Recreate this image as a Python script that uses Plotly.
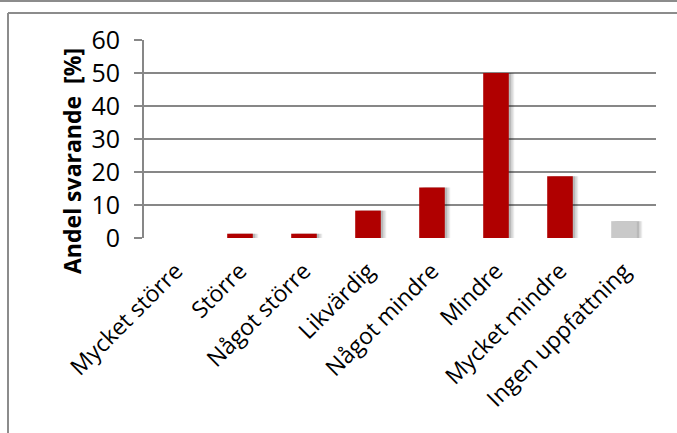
import plotly.graph_objects as go

categories = ["Mycket större", "Större", "Något större", "Likvärdig",
              "Något mindre", "Mindre", "Mycket mindre", "Ingen uppfattning"]
values = [0.0, 1.3, 1.3, 8.3, 15.3, 50.0, 18.7, 5.1]
bar_colors = ["#B00000"] * 7 + ["#C9C9C9"]
y_ticks = [0, 10, 20, 30, 40, 50, 60]
y_title = "Andel svarande\u00a0 [%]"

W, H = 677, 433
L, R, T, B = 144, 21, 40, 195
pw, ph = W - L - R, H - T - B

def px(x):
    return (x - L) / pw

def py(y):
    return (H - B - y) / ph

fig = go.Figure()

# soft shadows
for off, alpha in [(0.085, 0.08), (0.06, 0.10), (0.035, 0.12)]:
    fig.add_trace(go.Bar(
        x=categories, y=values, width=0.4, offset=-0.2 + off,
        marker=dict(color=f"rgba(0,0,0,{alpha})", line=dict(width=0)),
        hoverinfo="skip", showlegend=False,
    ))

fig.add_trace(go.Bar(
    x=categories, y=values, width=0.4, offset=-0.2,
    marker=dict(color=bar_colors, line=dict(width=0)),
    showlegend=False,
))

font_family = "Open Sans, Noto Sans, sans-serif"

fig.update_layout(
    width=W, height=H,
    margin=dict(l=L, r=R, t=T, b=B, pad=0),
    paper_bgcolor="white", plot_bgcolor="white",
    barmode="overlay",
    font=dict(family=font_family, size=24, color="black"),
    xaxis=dict(
        type="category", tickangle=-45, showgrid=False, zeroline=False,
        showline=False, ticks="", ticklabelstandoff=14,
        tickfont=dict(size=23, family=font_family),
        range=[-0.5, 7.5], fixedrange=True,
    ),
    yaxis=dict(
        range=[0, 60], tickvals=y_ticks, ticktext=[str(v) for v in y_ticks],
        showgrid=True, gridcolor="#878787", gridwidth=2,
        zeroline=False, showline=True, linecolor="#878787", linewidth=2,
        ticks="outside", ticklen=8, tickcolor="#878787", tickwidth=2,
        ticklabelstandoff=9,
        tickfont=dict(size=25, family=font_family),
        fixedrange=True,
    ),
    annotations=[
        dict(text="<b>" + y_title + "</b>", xref="paper", yref="paper",
             x=px(72), y=py(161), xanchor="center", yanchor="middle",
             textangle=-90, showarrow=False,
             font=dict(size=23, family=font_family, color="black")),
    ],
    shapes=[
        dict(type="line", xref="paper", yref="paper",
             x0=px(0), x1=px(W), y0=py(1), y1=py(1),
             line=dict(color="#8C8C8C", width=2)),
        dict(type="line", xref="paper", yref="paper",
             x0=px(8), x1=px(W), y0=py(13), y1=py(13),
             line=dict(color="#8C8C8C", width=2)),
        dict(type="line", xref="paper", yref="paper",
             x0=px(8), x1=px(8), y0=py(13), y1=py(H),
             line=dict(color="#8C8C8C", width=2)),
    ],
)

fig.write_html("out.html")
